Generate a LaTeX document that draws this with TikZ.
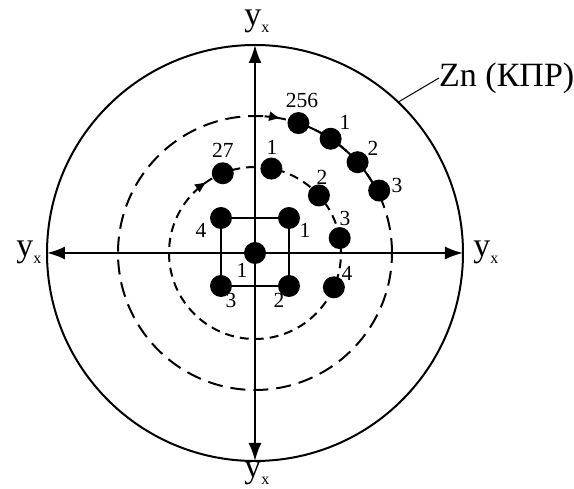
\documentclass[tikz,border=0pt]{standalone}
\usepackage{fontspec}
\setmainfont{Liberation Serif}
\usetikzlibrary{arrows.meta}
\newcommand\yxlab{y\raisebox{-7pt}{\fontsize{16}{16}\selectfont x}}
\begin{document}
\begin{tikzpicture}[x=1pt,y=1pt,
  dot/.style={circle,fill=black,inner sep=0pt,minimum size=22pt},
  lbl/.style={font=\fontsize{21.5}{21.5}\selectfont,inner sep=0pt},
  axlbl/.style={font=\fontsize{34}{34}\selectfont,inner sep=0pt},
  ln/.style={line width=2pt},
  axarrow/.style={ln,{Latex[length=18pt,width=13pt]}-{Latex[length=18pt,width=13pt]}},
  circarrow/.style={ln,-{Latex[length=12pt,width=10pt]}}
]
\useasboundingbox (-255,-236) rectangle (319,253);
\coordinate (O) at (0,0);
% circles
\draw[ln] (O) circle (208);
\draw[ln,dash pattern=on 15pt off 8pt] (O) circle (137);
\draw[ln,dash pattern=on 9pt off 6pt] (O) circle (86);
% solid arc on outer path
\draw[ln] (71.5:137) arc (71.5:26.7:137);
% direction arrows on the dashed circles
\draw[circarrow] (132:86) arc (132:124:86);
\draw[circarrow] (86:137) arc (86:79:137);
% axes
\coordinate (L) at (-208,0);
\coordinate (R) at (208,0);
\coordinate (T) at (0,208);
\coordinate (B) at (0,-208);
\draw[axarrow] (L) -- (R);
\draw[axarrow] (B) -- (T);
\node[axlbl] (yT) at (2,232) {\yxlab};
\node[axlbl] (yB) at (2,-220) {\yxlab};
\node[axlbl] (yL) at (-226,1) {\yxlab};
\node[axlbl] (yR) at (231,1) {\yxlab};
% Zn label
\coordinate (zc) at (46.5:208);
\node[axlbl,anchor=west] (zn) at (184,175) {Zn (КПР)};
\draw[line width=1pt] (zc) -- (zn.west);
% square
\node[dot] (s4) at (-34,35) {};
\node[dot] (s1) at (34,35) {};
\node[dot] (s3) at (-34,-33) {};
\node[dot] (s2) at (34,-33) {};
\draw[ln] (s4.center) -- (s1.center) -- (s2.center) -- (s3.center) -- cycle;
\node[dot] (s0) at (O) {};
\node[lbl] (ls4) at (-54,23) {4};
\node[lbl] (ls1) at (50,23) {1};
\node[lbl] (ls0) at (-13,-17) {1};
\node[lbl] (ls3) at (-24,-47) {3};
\node[lbl] (ls2) at (24,-47) {2};
% inner circle dots
\node[dot] (i27) at (112:86) {};
\node[dot] (i1) at (79:86) {};
\node[dot] (i2) at (42:86) {};
\node[dot] (i3) at (10:86) {};
\node[dot] (i4) at (-23.5:86) {};
\node[lbl] (li27) at (-32,103) {27};
\node[lbl] (li1) at (17,106) {1};
\node[lbl] (li2) at (67,76) {2};
\node[lbl] (li3) at (90,35) {3};
\node[lbl] (li4) at (92,-20) {4};
% outer circle dots
\node[dot] (o256) at (71.5:137) {};
\node[dot] (o1) at (56.5:137) {};
\node[dot] (o2) at (41.5:137) {};
\node[dot] (o3) at (26.7:139) {};
\node[lbl] (lo256) at (47,153) {256};
\node[lbl] (lo1) at (90,131) {1};
\node[lbl] (lo2) at (118,105) {2};
\node[lbl] (lo3) at (142,68) {3};
\end{tikzpicture}
\end{document}
